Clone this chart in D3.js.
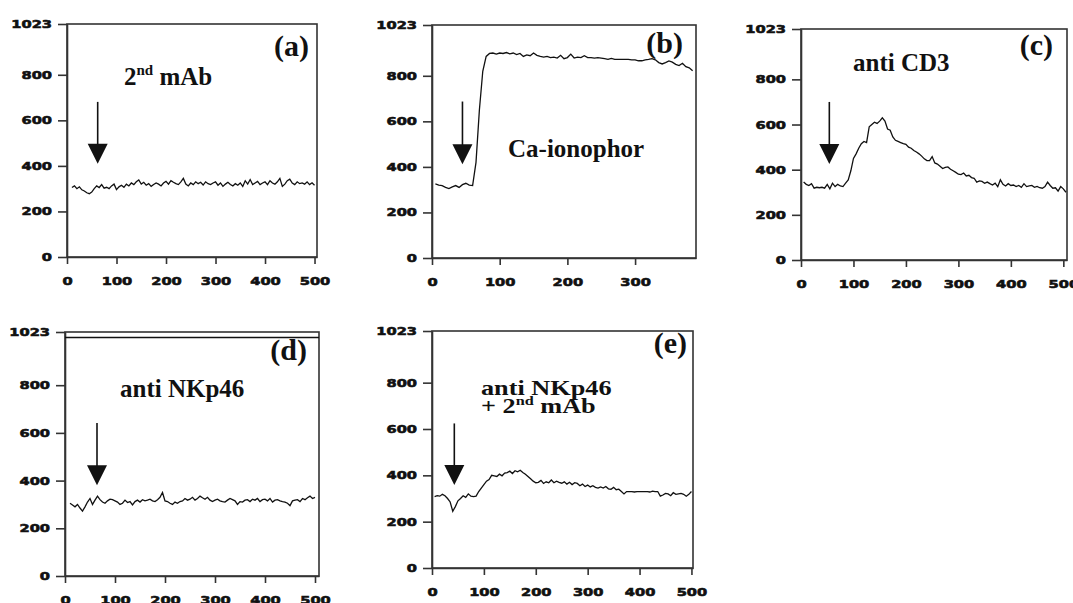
<!DOCTYPE html>
<html>
<head>
<meta charset="utf-8">
<script src="https://cdn.jsdelivr.net/npm/d3@7"></script>
<style>
    html, body { margin: 0; padding: 0; background: #fff; }
    svg { display: block; }
</style>
</head>
<body>
<svg id="chart" width="1073" height="603"></svg>
<script>
// sampling times
const timeE = [5,10,15,20,25,30,35,40,45,50,55,60,65,70,75,80,85,90,95,100,
    105,110,115,120,125,130,135,140,145,150,155,160,165,170,175,180,185,190,195,200,
    205,210,215,220,225,230,235,240,245,250,255,260,265,270,275,280,285,290,295,300,
    305,310,315,320,325,330,335,340,345,350,355,360,365,370,375,380,385,390,395,400,
    405,410,415,420,425,430,435,440,445,450,455,460,465,470,475,480,485,490,495,500];
const timeA = timeE.slice(1);           // 10 .. 500
const timeB = timeE.slice(0, 77);       // 5 .. 385
const timeC = timeE.concat([505]);      // 5 .. 505
const timeD = timeE.slice(1);           // 10 .. 500

// (a) 2nd mAb
const valuesA = [305,312,300,308,295,290,282,278,
    285,300,312,305,318,302,306,300,312,320,
    296,308,315,306,320,312,325,318,330,338,
    320,328,315,322,310,318,325,320,312,325,
    332,320,335,328,322,318,330,345,320,312,
    325,318,330,322,328,316,330,322,318,325,
    330,315,325,310,320,328,318,312,322,315,
    325,310,335,320,340,318,325,332,318,325,
    330,318,335,325,320,330,345,310,320,335,
    342,325,318,330,322,325,320,330,318,326,
    315];

// (b) Ca-ionophor
const valuesB = [325,320,318,310,305,312,318,310,322,328,
    320,318,420,650,820,885,898,900,895,900,
    898,902,896,900,893,898,885,892,888,900,
    890,885,882,885,880,882,878,890,875,880,
    895,878,882,880,888,880,880,878,880,878,
    875,872,876,872,872,872,872,872,870,870,
    866,866,870,872,875,870,858,852,858,865,
    860,850,845,855,840,835,822];

// (c) anti CD3
const valuesC = [345,335,330,338,318,322,320,322,318,335,
    315,340,325,335,328,325,340,355,395,450,
    470,495,515,525,520,590,600,610,605,615,
    630,615,580,575,545,530,525,520,515,512,
    500,495,485,478,470,460,448,440,440,458,
    430,425,415,405,410,412,402,395,388,380,
    378,385,372,375,365,362,345,350,348,340,
    345,338,332,340,325,355,335,328,338,330,
    332,325,330,322,338,325,328,330,322,326,
    320,318,325,345,330,318,320,305,325,315,
    300];

// (d) anti NKp46
const valuesD = [305,298,290,300,285,272,290,310,
    325,300,318,335,320,310,305,315,322,320,
    315,310,300,305,318,308,312,298,312,318,
    310,320,315,318,322,315,312,320,330,350,
    315,312,305,300,310,305,312,315,325,318,
    322,330,318,325,335,328,322,330,318,312,
    318,322,315,312,310,318,325,320,315,300,
    312,310,318,320,312,322,318,325,312,320,
    322,315,325,310,318,320,315,312,310,305,
    295,315,318,320,312,325,320,328,335,325,
    330];
const limitD = 1000;    // upper line in panel (d)

// (e) anti NKp46 + 2nd mAb
const valuesE = [308,312,310,318,312,300,285,245,265,290,
    300,312,305,320,310,308,310,330,345,360,
    375,382,400,398,395,405,398,410,412,418,
    408,420,415,422,412,405,395,385,375,368,
    370,378,365,372,368,380,368,375,370,366,
    372,362,370,360,368,365,355,362,352,358,
    350,355,348,345,350,345,352,342,340,348,
    338,340,330,320,330,330,330,328,330,330,
    330,330,330,328,332,330,330,310,315,322,
    320,312,325,318,320,322,318,310,318,330];

const yTicks = [0, 200, 400, 600, 800, 1023];
const xTicks500 = [0, 100, 200, 300, 400, 500];
const xTicks300 = [0, 100, 200, 300];

// label rows: [x, baseline, parts, font size, horizontal stretch]
const panels = [
    { id: 'a', time: timeA, values: valuesA, xMax: 505, xTicks: xTicks500,
      box: [67, 24, 317, 257], arrow: [62, 681, 409],
      tag: [309, 56], label: [[124, 85, ['2', 'nd', ' mAb'], 25, 1]] },
    { id: 'b', time: timeB, values: valuesB, xMax: 390, xTicks: xTicks300,
      box: [432, 25, 696, 258], arrow: [45, 687, 412],
      tag: [683, 53], label: [[508, 157, ['Ca-ionophor'], 25, 1]] },
    { id: 'c', time: timeC, values: valuesC, xMax: 507, xTicks: xTicks500,
      box: [801, 29, 1067, 260], arrow: [54, 700, 425],
      tag: [1053, 55], label: [[853, 71, ['anti CD3'], 25, 1]] },
    { id: 'd', time: timeD, values: valuesD, xMax: 508, xTicks: xTicks500,
      box: [65, 332, 319, 576], arrow: [64, 641, 381], limit: limitD,
      tag: [307, 360], label: [[120, 397, ['anti NKp46'], 25, 1]] },
    { id: 'e', time: timeE, values: valuesE, xMax: 503, xTicks: xTicks500,
      box: [432, 331, 693, 568], arrow: [43, 624, 358],
      tag: [687, 353], label: [[481, 395, ['anti NKp46'], 21, 1.25],
                               [481, 413, ['+ 2', 'nd', ' mAb'], 21, 1.25]] }
];

const serif = "'Liberation Serif', 'Times New Roman', serif";
const sans = "'DejaVu Sans', Verdana, sans-serif";
const ink = '#111';
const frameInk = '#333';

const svg = d3.select('#chart');

panels.forEach(p => {
    const [left, top, right, bottom] = p.box;
    const x = d3.scaleLinear().domain([0, p.xMax]).range([left, right]);
    const y = d3.scaleLinear().domain([0, 1023]).range([bottom, top]);
    const g = svg.append('g').attr('class', 'panel-' + p.id);

    // frame
    g.append('rect')
        .attr('x', left).attr('y', top)
        .attr('width', right - left).attr('height', bottom - top)
        .attr('fill', 'none').attr('stroke', frameInk).attr('stroke-width', 1.6);

    const yAxis = g.append('g')
        .attr('transform', `translate(${left},0)`)
        .call(d3.axisLeft(y).tickValues(yTicks).tickFormat(d3.format('d'))
            .tickSize(9).tickSizeOuter(0).tickPadding(6));
    const xAxis = g.append('g')
        .attr('transform', `translate(0,${bottom})`)
        .call(d3.axisBottom(x).tickValues(p.xTicks).tickFormat(d3.format('d'))
            .tickSize(7).tickSizeOuter(0).tickPadding(13));

    [yAxis, xAxis].forEach(a => {
        a.select('.domain').attr('stroke', frameInk).attr('stroke-width', 1.6);
        a.selectAll('.tick line').attr('stroke', frameInk).attr('stroke-width', 1.6);
        a.selectAll('.tick text')
            .attr('font-family', sans).attr('font-weight', 'bold')
            .attr('font-size', 11).attr('fill', ink)
            .attr('stroke', ink).attr('stroke-width', 0.6)
            .each(function () {
                // the original digits are wide and heavy: stretch them
                const w = this.getComputedTextLength();
                d3.select(this).attr('textLength', w * 1.33).attr('lengthAdjust', 'spacingAndGlyphs');
            });
    });

    if (p.limit !== undefined) {
        g.append('line')
            .attr('x1', left).attr('x2', right)
            .attr('y1', y(p.limit)).attr('y2', y(p.limit))
            .attr('stroke', ink).attr('stroke-width', 1.6);
    }

    // trace
    const line = d3.line()
        .x(d => x(d[0]))
        .y(d => y(d[1]));
    g.append('path')
        .datum(d3.zip(p.time, p.values))
        .attr('d', line)
        .attr('fill', 'none').attr('stroke', ink).attr('stroke-width', 1.3)
        .attr('stroke-linejoin', 'miter');

    // stimulus arrow
    const [ax, ay0, ay1] = p.arrow;
    const head = 20;
    g.append('line')
        .attr('x1', x(ax)).attr('x2', x(ax))
        .attr('y1', y(ay0)).attr('y2', y(ay1) - head + 2)
        .attr('stroke', ink).attr('stroke-width', 1.6);
    g.append('path')
        .attr('d', `M${x(ax) - head / 2},${y(ay1) - head}L${x(ax) + head / 2},${y(ay1) - head}L${x(ax)},${y(ay1)}Z`)
        .attr('fill', ink);

    // panel tag
    g.append('text')
        .attr('x', p.tag[0]).attr('y', p.tag[1])
        .attr('text-anchor', 'end')
        .attr('font-family', serif).attr('font-weight', 'bold').attr('font-size', 30)
        .attr('fill', ink)
        .text(`(${p.id})`);

    // stimulus label, with "nd" as superscript
    p.label.forEach(([lx, ly, parts, size, stretch]) => {
        const t = g.append('text')
            .attr('transform', `translate(${lx},${ly}) scale(${stretch},1)`)
            .attr('font-family', serif).attr('font-weight', 'bold').attr('font-size', size)
            .attr('fill', ink);
        if (parts.length === 1) {
            t.text(parts[0]);
        } else {
            const sup = Math.round(size * 0.6);
            const rise = Math.round(size * 0.4);
            t.append('tspan').text(parts[0]);
            t.append('tspan').attr('font-size', sup).attr('dy', -rise).text(parts[1]);
            t.append('tspan').attr('dy', rise).text(parts[2]);
        }
    });
});
</script>
</body>
</html>
